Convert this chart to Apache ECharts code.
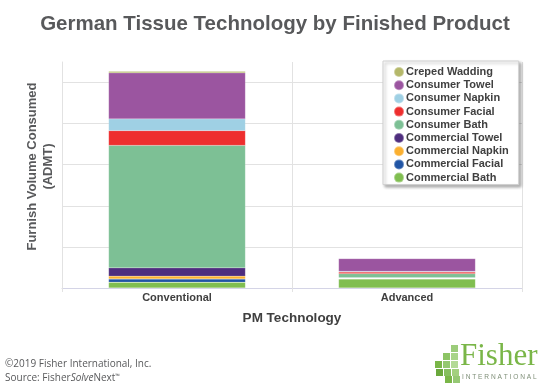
<!DOCTYPE html>
<html>
<head>
<meta charset="utf-8">
<script src="https://cdn.jsdelivr.net/npm/echarts@6/dist/echarts.min.js"></script>
<style>
html,body{margin:0;padding:0;background:#fff;}
#chart{width:550px;height:387px;}
</style>
</head>
<body>
<div id="chart"></div>
<script>
// ---- Data (ADMT, arbitrary units) ----
var categories = ['Conventional', 'Advanced'];
var seriesNames = ['Commercial Bath', 'Commercial Facial', 'Commercial Napkin', 'Commercial Towel',
                   'Consumer Bath', 'Consumer Facial', 'Consumer Napkin', 'Consumer Towel', 'Creped Wadding'];
var commercialBath   = [0.14, 0.22];
var commercialFacial = [0.08, 0.01];
var commercialNapkin = [0.07, 0.01];
var commercialTowel  = [0.20, 0.01];
var consumerBath     = [2.98, 0.10];
var consumerFacial   = [0.36, 0.04];
var consumerNapkin   = [0.285, 0.015];
var consumerTowel    = [1.12, 0.31];
var crepedWadding    = [0.04, 0.005];
var seriesValues = [commercialBath, commercialFacial, commercialNapkin, commercialTowel,
                    consumerBath, consumerFacial, consumerNapkin, consumerTowel, crepedWadding];
var seriesColors = ['#80be50', '#2155a5', '#fbb030', '#4e2d7e',
                    '#7dc095', '#ee2e2e', '#9fd0e4', '#9b55a0', '#b5b86a'];
var legendOrder = ['Creped Wadding', 'Consumer Towel', 'Consumer Napkin', 'Consumer Facial', 'Consumer Bath',
                   'Commercial Towel', 'Commercial Napkin', 'Commercial Facial', 'Commercial Bath'];

var chart = echarts.init(document.getElementById('chart'), null, {renderer: 'canvas'});

var series = seriesNames.map(function (name, i) {
  return {
    name: name,
    type: 'bar',
    stack: 'total',
    xAxisIndex: 0,
    yAxisIndex: 0,
    barWidth: '59.5%',
    itemStyle: {color: seriesColors[i], borderColor: 'rgba(255,255,255,0.35)', borderWidth: 0.4},
    emphasis: {disabled: true},
    data: seriesValues[i]
  };
});

// logo squares (decorative)
var sq = [
  [451,345,'#9ccc7a'],
  [443,353,'#8cc464'],[451,353,'#a8d488'],
  [435,361,'#7ab648'],[443,361,'#94c870'],[451,361,'#b3da96'],
  [436,369,'#6aa83c'],[444,369,'#86bf5e'],[452,369,'#a3d07f'],
  [445,376,'#7ab648'],[453,376,'#96c874']
];
var logoEls = sq.map(function (s) {
  return {type: 'rect', shape: {x: s[0], y: s[1], width: 7, height: 7}, style: {fill: s[2]}};
});

var option = {
  backgroundColor: '#ffffff',
  animation: false,
  title: {
    text: 'German Tissue Technology by Finished Product',
    left: 'center',
    top: 9,
    textStyle: {fontFamily: 'Liberation Sans, Arial', fontSize: 20.5, fontWeight: 'bold', color: '#58595b'}
  },
  legend: {
    data: legendOrder,
    orient: 'vertical',
    left: 383,
    top: 61,
    padding: [5, 10, 1, 10],
    itemWidth: 10,
    itemHeight: 10,
    itemGap: 1.2,
    icon: 'circle',
    backgroundColor: '#fff',
    borderColor: '#d0d0d0',
    borderWidth: 1,
    shadowColor: 'rgba(0,0,0,0.3)',
    shadowBlur: 3,
    shadowOffsetX: 2,
    shadowOffsetY: 2,
    textStyle: {fontFamily: 'Liberation Sans, Arial', fontSize: 11, fontWeight: 'bold', color: '#404040', padding: [0,0,0,-3]}
  },
  grid: [
    {left: 62, right: 28, top: 62, bottom: 99},
    {left: 62, right: 28, top: 82.5, bottom: 99}
  ],
  xAxis: [
    {
      type: 'category',
      gridIndex: 0,
      data: categories,
      axisLine: {show: true, lineStyle: {color: '#d4d4e6', width: 1}},
      axisTick: {show: true, length: 4, lineStyle: {color: '#e2e2e2'}},
      splitLine: {show: true, lineStyle: {color: '#e2e2e2', width: 1}},
      axisLabel: {fontFamily: 'Liberation Sans, Arial', fontSize: 11, fontWeight: 'bold', color: '#404040', margin: 4},
      name: 'PM Technology',
      nameLocation: 'middle',
      nameGap: 23,
      nameTextStyle: {fontFamily: 'Liberation Sans, Arial', fontSize: 13.5, fontWeight: 'bold', color: '#404040'}
    },
    {
      type: 'category',
      gridIndex: 1,
      data: categories,
      show: false
    }
  ],
  yAxis: [
    {
      type: 'value',
      gridIndex: 0,
      min: 0,
      max: 5.5,
      interval: 1,
      axisLine: {show: true, lineStyle: {color: '#e2e2e2'}},
      axisTick: {show: false},
      axisLabel: {show: false},
      splitLine: {show: false},
      name: 'Furnish Volume Consumed\n(ADMT)',
      nameLocation: 'middle',
      nameRotate: 90,
      nameGap: 6,
      nameTextStyle: {fontFamily: 'Liberation Sans, Arial', fontSize: 13, fontWeight: 'bold', color: '#58595b', lineHeight: 16, padding: [0, 0, 0, 17]}
    },
    {
      type: 'value',
      gridIndex: 1,
      min: 0,
      max: 5,
      interval: 1,
      axisLine: {show: false},
      axisTick: {show: false},
      axisLabel: {show: false},
      splitLine: {show: true, lineStyle: {color: '#e2e2e2', width: 1}}
    }
  ],
  series: series,
  graphic: [
    {type: 'text', left: 5, top: 359, style: {text: '©2019 Fisher International, Inc.', fontFamily: 'Open Sans, Liberation Sans', fontSize: 10, fill: '#58595b'}},
    {type: 'text', left: 5, top: 373, style: {
      text: '{n|Source: Fisher}{i|Solve}{n|Next}{s|™}',
      rich: {
        n: {fontFamily: 'Open Sans, Liberation Sans', fontSize: 10, fill: '#58595b'},
        i: {fontFamily: 'Open Sans, Liberation Sans', fontSize: 10, fontStyle: 'italic', fill: '#58595b'},
        s: {fontFamily: 'Open Sans, Liberation Sans', fontSize: 6, fill: '#58595b', verticalAlign: 'top', padding: [0,0,5,0]}
      }
    }},
    {type: 'group', children: logoEls},
    {type: 'text', left: 460, top: 341, style: {text: 'Fisher', fontFamily: 'Liberation Serif, DejaVu Serif', fontSize: 31, fill: '#7ab648'}},
    {type: 'text', left: 462, top: 374, style: {text: 'I N T E R N A T I O N A L', fontFamily: 'Liberation Sans, Arial', fontSize: 6.6, fill: '#7f8f78'}}
  ]
};

chart.setOption(option);
</script>
</body>
</html>
